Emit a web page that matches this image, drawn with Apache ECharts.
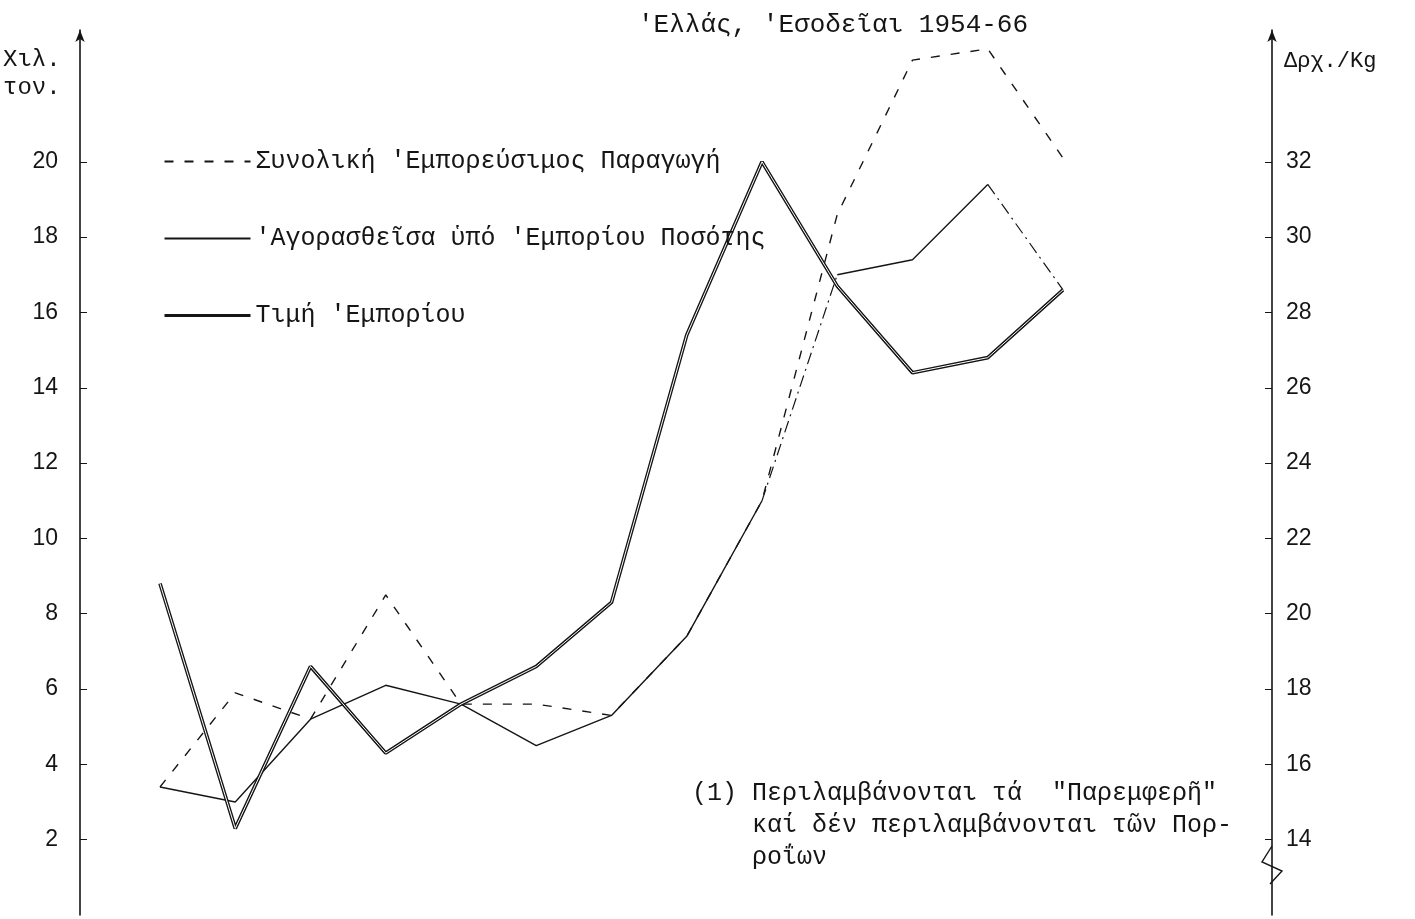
<!DOCTYPE html>
<html>
<head>
<meta charset="utf-8">
<title>Ελλάς, Εσοδεῖαι 1954-66</title>
<script src="https://cdn.jsdelivr.net/npm/echarts@6/dist/echarts.min.js"></script>
<style>
  html, body { margin: 0; padding: 0; background: #fff; }
  #chart { width: 1415px; height: 919px; }
</style>
</head>
<body>
<div id="chart"></div>
<script>
// years on the x axis (no labels drawn on the original)
const years = ['1954', '1955', '1956', '1957', '1958', '1959', '1960',
  '1961', '1962', '1963', '1964', '1965', '1966']
// thousand tons (left axis)
const production = [3.4, 5.9, 5.2, 8.5, 5.6, 5.6, 5.3, 7.4, 11.0, 18.6, 22.7, 23.0, 20.1]
const purchased = [3.4, 3.0, 5.2, 6.1, 5.6, 4.5, 5.3, 7.4, 11.0, 17.0, 17.4, 19.4, 16.6]
// drachmas per kg (right axis)
const price = [20.8, 14.3, 18.6, 16.3, 17.6, 18.6, 20.3, 27.4, 32.0, 28.7, 26.4, 26.8, 28.6]
// tick labels
const leftTicks = [2, 4, 6, 8, 10, 12, 14, 16, 18, 20]
const rightTicks = [14, 16, 18, 20, 22, 24, 26, 28, 30, 32]

const nameProd = 'Συνολική \'Εμπορεύσιμος Παραγωγή'
const namePurch = '\'Αγορασθεῖσα ὑπό \'Εμπορίου Ποσότης'
const namePrice = 'Τιμή \'Εμπορίου'

const mono = '"Liberation Mono", "DejaVu Sans Mono", monospace'
const ink = '#151515'

// keep only some points of a series, the rest become gaps
function keep(arr, idx) {
  return arr.map((v, i) => idx.indexOf(i) >= 0 ? v : null)
}

const chart = echarts.init(document.getElementById('chart'))

const yCommon = {
  type: 'value',
  splitLine: { show: false },
  axisLine: {
    show: true,
    symbol: ['none', 'arrow'],
    symbolSize: [7, 12],
    lineStyle: { color: ink, width: 1.6 }
  },
  axisTick: { show: true, inside: true, length: 7, lineStyle: { color: ink } },
  axisLabel: {
    color: ink,
    fontFamily: '"Liberation Sans", Arial, sans-serif',
    fontSize: 23
  }
}

chart.setOption({
  backgroundColor: '#fff',
  animation: false,
  grid: { left: 160, right: 352, top: 30, bottom: 4 },
  xAxis: {
    type: 'category',
    data: years,
    boundaryGap: false,
    axisLine: { show: false },
    axisTick: { show: false },
    axisLabel: { show: false }
  },
  yAxis: [
    Object.assign({}, yCommon, {
      position: 'left',
      offset: 80,
      min: 0,
      max: 23.5,
      axisTick: Object.assign({}, yCommon.axisTick, { customValues: leftTicks }),
      axisLabel: Object.assign({}, yCommon.axisLabel, { customValues: leftTicks, margin: 22 })
    }),
    Object.assign({}, yCommon, {
      position: 'right',
      offset: 209,
      min: 12,
      max: 35.5,
      axisTick: Object.assign({}, yCommon.axisTick, { customValues: rightTicks }),
      axisLabel: Object.assign({}, yCommon.axisLabel, { customValues: rightTicks, margin: 14 })
    })
  ],
  legend: {
    orient: 'vertical',
    left: 158,
    top: 144,
    itemWidth: 86,
    itemHeight: 14,
    itemGap: 52,
    itemStyle: { color: 'transparent', borderWidth: 0 },
    data: [
      { name: nameProd },
      { name: namePurch },
      { name: namePrice, lineStyle: { width: 3 } }
    ],
    selectedMode: false,
    textStyle: { fontFamily: mono, fontSize: 25, color: ink }
  },
  graphic: [
    {
      type: 'text', left: 638, top: 12,
      style: { text: '\'Ελλάς, \'Εσοδεῖαι 1954-66', font: '26px ' + mono, fill: ink }
    },
    {
      type: 'text', left: 3, top: 46,
      style: { text: 'Χιλ.\nτον.', font: '24px ' + mono, fill: ink, lineHeight: 28 }
    },
    {
      type: 'text', left: 1284, top: 50,
      style: { text: 'Δρχ./Kg', font: '22px ' + mono, fill: ink }
    },
    {
      type: 'text', left: 692, top: 777,
      style: {
        text: '(1) Περιλαμβάνονται τά  "Παρεμφερῆ"\n    καί δέν περιλαμβάνονται τῶν Πορ-\n    ροΐων',
        font: '25px ' + mono, fill: ink, lineHeight: 32
      }
    },
    {
      // break mark on the price axis
      type: 'polyline', silent: true,
      shape: { points: [[1272, 846], [1262, 862], [1282, 871], [1270, 884]] },
      style: { stroke: ink, lineWidth: 1.4, fill: 'none' }
    }
  ],
  series: [
    {
      name: nameProd,
      type: 'line',
      yAxisIndex: 0,
      data: production,
      symbol: 'none',
      lineStyle: { color: ink, width: 1.4, type: [9, 11] },
      itemStyle: { color: ink }
    },
    {
      name: namePurch,
      type: 'line',
      yAxisIndex: 0,
      data: keep(purchased, [0, 1, 2, 3, 4, 5, 6, 7, 8]),
      symbol: 'none',
      lineStyle: { color: ink, width: 1.4 },
      itemStyle: { color: ink }
    },
    {
      name: namePurch,
      type: 'line',
      yAxisIndex: 0,
      data: keep(purchased, [9, 10, 11]),
      symbol: 'none',
      lineStyle: { color: ink, width: 1.4 },
      itemStyle: { color: ink }
    },
    {
      name: namePurch,
      type: 'line',
      yAxisIndex: 0,
      data: keep(purchased, [8, 9, 11, 12]),
      symbol: 'none',
      lineStyle: { color: ink, width: 1.2, type: [12, 5, 2, 5] },
      itemStyle: { color: ink }
    },
    {
      name: namePrice,
      type: 'line',
      yAxisIndex: 1,
      data: price,
      symbol: 'none',
      lineStyle: { color: ink, width: 3.6 },
      itemStyle: { color: ink }
    },
    {
      // inner white stroke gives the double-ruled look of the original
      name: namePrice,
      type: 'line',
      yAxisIndex: 1,
      data: price,
      symbol: 'none',
      silent: true,
      lineStyle: { color: '#fff', width: 1 },
      itemStyle: { color: '#fff' }
    }
  ]
})
</script>
</body>
</html>
